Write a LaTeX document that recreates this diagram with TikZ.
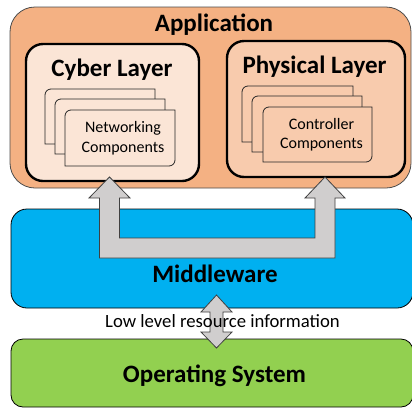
\documentclass[tikz,border=0pt]{standalone}
\usepackage{fontspec}
\setmainfont{Carlito}
\definecolor{appfill}{HTML}{F4B183}
\definecolor{cyberfill}{HTML}{FBE5D6}
\definecolor{physfill}{HTML}{F8CBAD}
\definecolor{midfill}{HTML}{00B0F0}
\definecolor{osfill}{HTML}{92D050}
\definecolor{arrowfill}{HTML}{D0CECE}
\definecolor{arrowline}{HTML}{404040}
% rectangle with rounded top-left and bottom-right corners
\newcommand\rdcbox[5]{%
  \draw[stackbox,fill=#5] (#1,#4) -- (#1,#2+6) arc[start angle=180,end angle=270,radius=6]
    -- (#3,#2) -- (#3,#4-6) arc[start angle=0,end angle=90,radius=6] -- cycle;}
\tikzset{
  layerbox/.style={draw=black,line width=2.4pt,rounded corners=17pt},
  stackbox/.style={draw=black!85,line width=0.8pt},
  blockarrow/.style={draw=arrowline,fill=arrowfill,line width=0.8pt,line join=miter},
  title/.style={font=\fontsize{25}{29}\selectfont\bfseries,anchor=base,inner sep=0pt},
  small/.style={font=\fontsize{16}{19.5}\selectfont,align=center,inner sep=0pt},
}
\begin{document}
\begin{tikzpicture}[x=1pt,y=-1pt]
\useasboundingbox (0,0) rectangle (412,408);
\clip (0,0) rectangle (412,408);
% application frame
\draw[draw=black!70,fill=appfill,line width=0.8pt,rounded corners=25pt] (10,7) rectangle (411,188);
% cyber and physical layers
\draw[layerbox,fill=cyberfill] (26,44) rectangle (199,181);
\draw[layerbox,fill=physfill] (227,41) rectangle (405,177);
% stacked component cards
\rdcbox{45}{89}{155}{144}{cyberfill}
\rdcbox{55}{99}{165}{154}{cyberfill}
\rdcbox{65}{110}{175}{166}{cyberfill}
\rdcbox{242}{86}{353}{142}{physfill}
\rdcbox{252}{96}{362}{152}{physfill}
\rdcbox{263}{107}{372}{162}{physfill}
% middleware and operating system
\draw[draw=black,fill=midfill,line width=0.8pt,rounded corners=16pt] (11,209) rectangle (413,308);
\draw[draw=black,fill=osfill,line width=0.8pt,rounded corners=12pt] (11,339) rectangle (413,407);
% U-shaped block arrow from middleware up to both layers
\draw[blockarrow] (89,198) -- (109.5,177) -- (130,198) -- (119.5,198) -- (119.5,238)
  -- (315,238) -- (315,198) -- (305,198) -- (325,177) -- (345,198) -- (335,198)
  -- (335,258) -- (99.5,258) -- (99.5,198) -- cycle;
% double block arrow between middleware and operating system
\draw[blockarrow] (216.5,295) -- (232,312) -- (223,312) -- (223,332) -- (232,332)
  -- (216.5,348) -- (201,332) -- (210,332) -- (210,312) -- (201,312) -- cycle;
% labels
\node[title] (app) at (214,31) {Application};
\node[title] (cyber) at (112,76) {Cyber Layer};
\node[title] (phys) at (314.5,73) {Physical Layer};
\node[small] (net) at (123,138) {Networking\\Components};
\node[small] (ctrl) at (321.5,134.5) {Controller\\Components};
\node[title] (mid) at (215,282) {Middleware};
\node[title] (os) at (214.5,382) {Operating System};
\node[font=\fontsize{18.7}{22}\selectfont,anchor=base,inner sep=0pt] (low) at (222.5,327) {Low level resource information};
\end{tikzpicture}
\end{document}
